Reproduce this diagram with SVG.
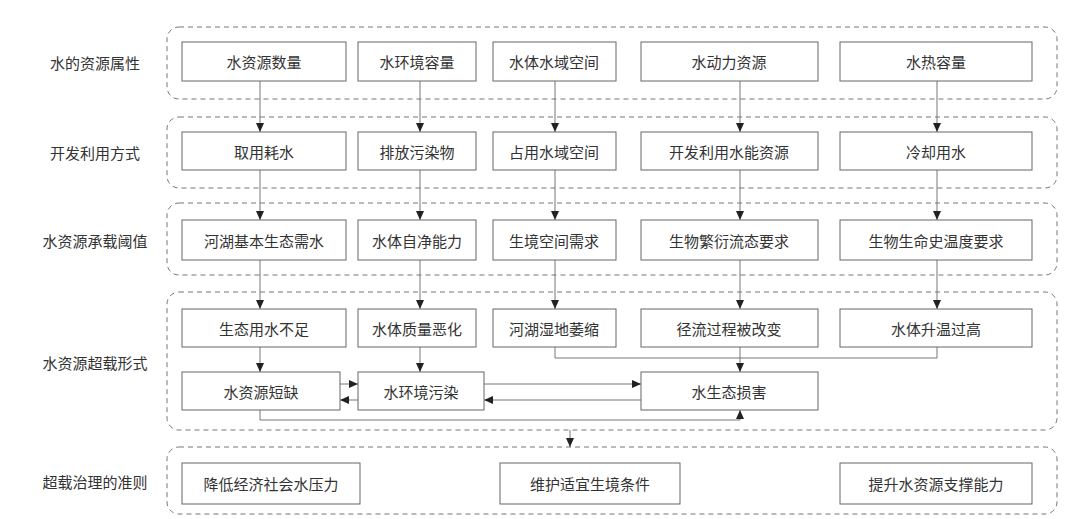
<svg xmlns="http://www.w3.org/2000/svg" width="1080" height="519" viewBox="0 0 1080 519">
<style>
.g{fill:none;stroke:#777;stroke-width:1;stroke-dasharray:5,4}
.b{fill:#fff;stroke:#666;stroke-width:1}
.t{font-family:"Noto Sans CJK SC",sans-serif;font-size:15px;fill:#333;text-anchor:middle;dominant-baseline:central}
.c{fill:none;stroke:#777;stroke-width:1}
</style>
<defs><marker id="a" markerWidth="10" markerHeight="10" refX="9" refY="5" orient="auto" markerUnits="userSpaceOnUse"><path d="M0,1 L9,5 L0,9z" fill="#222"/></marker></defs>
<rect width="1080" height="519" fill="#fff"/>
<g id="groups">
<rect class="g" x="167" y="27" width="890" height="72" rx="12"/>
<rect class="g" x="167" y="117" width="890" height="71" rx="12"/>
<rect class="g" x="167" y="203" width="890" height="72" rx="12"/>
<rect class="g" x="167" y="292" width="890" height="138" rx="12"/>
<rect class="g" x="167" y="447" width="890" height="67" rx="12"/>
</g>
<g id="labels">
<text class="t" x="95" y="62">水的资源属性</text>
<text class="t" x="95" y="152">开发利用方式</text>
<text class="t" x="95" y="240">水资源承载阈值</text>
<text class="t" x="95" y="362">水资源超载形式</text>
<text class="t" x="95" y="481">超载治理的准则</text>
</g>
<g id="connectors">
<path class="c" d="M260,81V132" marker-end="url(#a)"/><path class="c" d="M420,81V132" marker-end="url(#a)"/><path class="c" d="M555,81V132" marker-end="url(#a)"/><path class="c" d="M740,81V132" marker-end="url(#a)"/><path class="c" d="M937,81V132" marker-end="url(#a)"/>
<path class="c" d="M260,170V220" marker-end="url(#a)"/><path class="c" d="M420,170V220" marker-end="url(#a)"/><path class="c" d="M555,170V220" marker-end="url(#a)"/><path class="c" d="M740,170V220" marker-end="url(#a)"/><path class="c" d="M937,170V220" marker-end="url(#a)"/>
<path class="c" d="M260,260V309" marker-end="url(#a)"/><path class="c" d="M420,260V309" marker-end="url(#a)"/><path class="c" d="M555,260V309" marker-end="url(#a)"/><path class="c" d="M740,260V309" marker-end="url(#a)"/><path class="c" d="M937,260V309" marker-end="url(#a)"/>
<path class="c" d="M260,347V372" marker-end="url(#a)"/>
<path class="c" d="M420,347V372" marker-end="url(#a)"/>
<path class="c" d="M555,347V358H937V347"/>
<path class="c" d="M740,347V372" marker-end="url(#a)"/>
<path class="c" d="M340,384H358" marker-end="url(#a)"/>
<path class="c" d="M358,400H340" marker-end="url(#a)"/>
<path class="c" d="M484,384H641" marker-end="url(#a)"/>
<path class="c" d="M641,400H484" marker-end="url(#a)"/>
<path class="c" d="M260,410V420H740V410" marker-end="url(#a)"/>
<path class="c" d="M570,430V447" marker-end="url(#a)"/>
</g>
<g id="n1"><rect class="b" x="182" y="42" width="164" height="39"/><text class="t" x="264" y="61">水资源数量</text></g>
<g id="n2"><rect class="b" x="358" y="42" width="118" height="39"/><text class="t" x="417" y="61">水环境容量</text></g>
<g id="n3"><rect class="b" x="493" y="42" width="123" height="39"/><text class="t" x="554" y="61">水体水域空间</text></g>
<g id="n4"><rect class="b" x="641" y="42" width="177" height="39"/><text class="t" x="729" y="61">水动力资源</text></g>
<g id="n5"><rect class="b" x="840" y="42" width="192" height="39"/><text class="t" x="936" y="61">水热容量</text></g>
<g id="n6"><rect class="b" x="182" y="132" width="164" height="38"/><text class="t" x="264" y="151">取用耗水</text></g>
<g id="n7"><rect class="b" x="358" y="132" width="118" height="38"/><text class="t" x="417" y="151">排放污染物</text></g>
<g id="n8"><rect class="b" x="493" y="132" width="123" height="38"/><text class="t" x="554" y="151">占用水域空间</text></g>
<g id="n9"><rect class="b" x="641" y="132" width="177" height="38"/><text class="t" x="729" y="151">开发利用水能资源</text></g>
<g id="n10"><rect class="b" x="840" y="132" width="192" height="38"/><text class="t" x="936" y="151">冷却用水</text></g>
<g id="n11"><rect class="b" x="182" y="220" width="164" height="40"/><text class="t" x="264" y="240">河湖基本生态需水</text></g>
<g id="n12"><rect class="b" x="358" y="220" width="118" height="40"/><text class="t" x="417" y="240">水体自净能力</text></g>
<g id="n13"><rect class="b" x="493" y="220" width="123" height="40"/><text class="t" x="554" y="240">生境空间需求</text></g>
<g id="n14"><rect class="b" x="641" y="220" width="177" height="40"/><text class="t" x="729" y="240">生物繁衍流态要求</text></g>
<g id="n15"><rect class="b" x="840" y="220" width="192" height="40"/><text class="t" x="936" y="240">生物生命史温度要求</text></g>
<g id="n16"><rect class="b" x="182" y="309" width="164" height="38"/><text class="t" x="264" y="328">生态用水不足</text></g>
<g id="n17"><rect class="b" x="358" y="309" width="118" height="38"/><text class="t" x="417" y="328">水体质量恶化</text></g>
<g id="n18"><rect class="b" x="493" y="309" width="123" height="38"/><text class="t" x="554" y="328">河湖湿地萎缩</text></g>
<g id="n19"><rect class="b" x="641" y="309" width="177" height="38"/><text class="t" x="729" y="328">径流过程被改变</text></g>
<g id="n20"><rect class="b" x="840" y="309" width="192" height="38"/><text class="t" x="936" y="328">水体升温过高</text></g>
<g id="n21"><rect class="b" x="182" y="372" width="158" height="38"/><text class="t" x="261" y="391">水资源短缺</text></g>
<g id="n22"><rect class="b" x="358" y="372" width="126" height="38"/><text class="t" x="421" y="391">水环境污染</text></g>
<g id="n23"><rect class="b" x="641" y="372" width="177" height="38"/><text class="t" x="729" y="391">水生态损害</text></g>
<g id="n24"><rect class="b" x="182" y="463" width="178" height="41"/><text class="t" x="271" y="483">降低经济社会水压力</text></g>
<g id="n25"><rect class="b" x="500" y="463" width="180" height="41"/><text class="t" x="590" y="483">维护适宜生境条件</text></g>
<g id="n26"><rect class="b" x="840" y="463" width="192" height="41"/><text class="t" x="936" y="483">提升水资源支撑能力</text></g>
</svg>
